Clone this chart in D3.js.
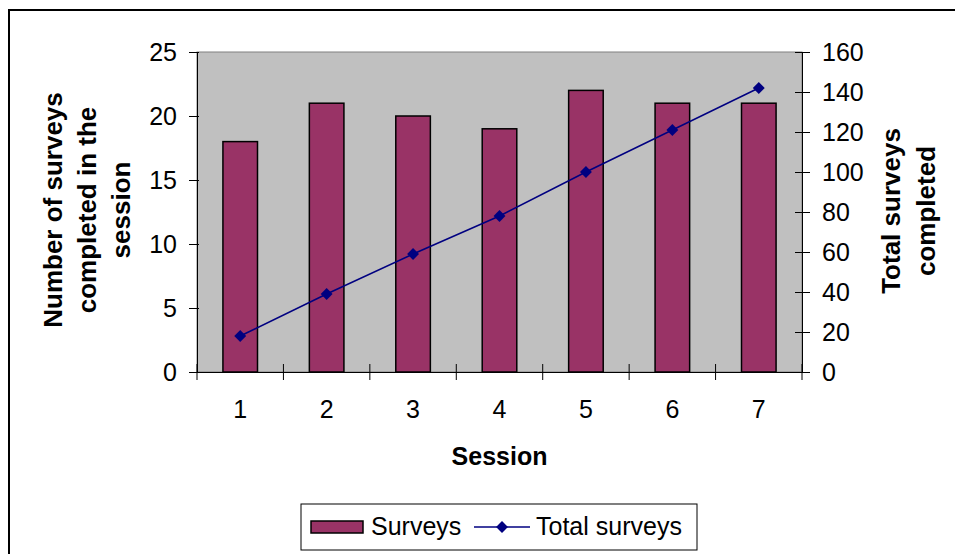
<!DOCTYPE html>
<html>
<head>
<meta charset="utf-8">
<script src="https://cdn.jsdelivr.net/npm/d3@7"></script>
<style>
  html, body { margin: 0; padding: 0; background: #fff; }
  svg { display: block; font-family: "Liberation Sans", Arial, sans-serif; }
</style>
</head>
<body>
<svg id="chart" width="955" height="554"></svg>
<script>
// Surveys completed per session, and the running total
const sessions = ["1", "2", "3", "4", "5", "6", "7"];
const surveys = [18, 21, 20, 19, 22, 21, 21];
const totalSurveys = [18, 39, 59, 78, 100, 121, 142];
const leftTicks = [0, 5, 10, 15, 20, 25];
const rightTicks = [0, 20, 40, 60, 80, 100, 120, 140, 160];

const svg = d3.select("#chart");
const plot = { left: 197, top: 52, right: 802, bottom: 372 };

// outer chart frame
svg.append("rect")
  .attr("x", 9).attr("y", 10).attr("width", 960).attr("height", 560)
  .attr("fill", "none").attr("stroke", "#000").attr("stroke-width", 2);

const x = d3.scaleBand().domain(sessions).range([plot.left, plot.right]).paddingInner(0).paddingOuter(0);
const yL = d3.scaleLinear().domain([0, 25]).range([plot.bottom, plot.top]);
const yR = d3.scaleLinear().domain([0, 160]).range([plot.bottom, plot.top]);

// plot area
svg.append("rect")
  .attr("x", plot.left).attr("y", plot.top)
  .attr("width", plot.right - plot.left).attr("height", plot.bottom - plot.top)
  .attr("fill", "#c0c0c0").attr("stroke", "#808080").attr("stroke-width", 1);

// bars
const barW = x.bandwidth() / 2.5;
svg.append("g").selectAll("rect").data(sessions).join("rect")
  .attr("x", (d) => x(d) + (x.bandwidth() - barW) / 2)
  .attr("y", (d, i) => yL(surveys[i]))
  .attr("width", barW)
  .attr("height", (d, i) => yL(0) - yL(surveys[i]))
  .attr("fill", "#993366").attr("stroke", "#000").attr("stroke-width", 1.5);

// axes
function styleAxis(g) {
  g.select(".domain").attr("stroke", "#000").attr("stroke-width", 1);
  g.selectAll(".tick line").attr("stroke", "#000");
  g.selectAll(".tick text").attr("fill", "#000").attr("font-size", 25);
}

const axL = svg.append("g").attr("transform", `translate(${plot.left},0)`)
  .call(d3.axisLeft(yL).tickValues(leftTicks).tickSize(0).tickPadding(20));
axL.selectAll(".tick").append("line").attr("x1", -8).attr("x2", 2);
styleAxis(axL);

const axR = svg.append("g").attr("transform", `translate(${plot.right},0)`)
  .call(d3.axisRight(yR).tickValues(rightTicks).tickSize(0).tickPadding(20));
axR.selectAll(".tick").append("line").attr("x1", -7).attr("x2", 8);
styleAxis(axR);

const axB = svg.append("g").attr("transform", `translate(0,${plot.bottom})`)
  .call(d3.axisBottom(x).tickSize(0).tickPadding(28));
styleAxis(axB);
// category separators crossing the axis
const sepPos = d3.range(sessions.length + 1).map((i) => plot.left + i * x.bandwidth());
axB.selectAll("line.sep").data(sepPos).join("line").attr("class", "sep")
  .attr("x1", (d) => d).attr("x2", (d) => d).attr("y1", -8).attr("y2", 8)
  .attr("stroke", "#000");

// running total line
const line = d3.line()
  .x((d, i) => x(sessions[i]) + x.bandwidth() / 2)
  .y((d) => yR(d));
svg.append("path").datum(totalSurveys).attr("d", line)
  .attr("fill", "none").attr("stroke", "#000080").attr("stroke-width", 1.5);
const diamond = d3.symbol().type(d3.symbolDiamond2).size(90);
svg.append("g").selectAll("path").data(totalSurveys).join("path")
  .attr("d", diamond)
  .attr("transform", (d, i) => `translate(${x(sessions[i]) + x.bandwidth() / 2},${yR(d)})`)
  .attr("fill", "#000080");

// axis titles
svg.append("text").attr("x", (plot.left + plot.right) / 2).attr("y", 465)
  .attr("text-anchor", "middle").attr("font-size", 25).attr("font-weight", "bold")
  .text("Session");

const leftTitle = ["Number of surveys", "completed in the", "session"];
svg.append("text").attr("transform", "translate(62,210) rotate(-90)")
  .attr("text-anchor", "middle").attr("font-size", 26).attr("font-weight", "bold")
  .selectAll("tspan").data(leftTitle).join("tspan")
  .attr("x", 0).attr("dy", (d, i) => i === 0 ? 0 : 34).text((d) => d);

const rightTitle = ["Total surveys", "completed"];
svg.append("text").attr("transform", "translate(900,211) rotate(-90)")
  .attr("text-anchor", "middle").attr("font-size", 26).attr("font-weight", "bold")
  .selectAll("tspan").data(rightTitle).join("tspan")
  .attr("x", 0).attr("dy", (d, i) => i === 0 ? 0 : 35).text((d) => d);

// legend
const lg = svg.append("g");
lg.append("rect").attr("x", 301).attr("y", 504).attr("width", 396).attr("height", 46)
  .attr("fill", "#fff").attr("stroke", "#000").attr("stroke-width", 1);
lg.append("rect").attr("x", 311).attr("y", 521).attr("width", 52).attr("height", 12)
  .attr("fill", "#993366").attr("stroke", "#000").attr("stroke-width", 1.5);
lg.append("text").attr("x", 371).attr("y", 535).attr("font-size", 25).text("Surveys");
lg.append("line").attr("x1", 474).attr("x2", 530).attr("y1", 527).attr("y2", 527)
  .attr("stroke", "#000080").attr("stroke-width", 1.5);
lg.append("path").attr("d", diamond).attr("transform", "translate(502,527)").attr("fill", "#000080");
lg.append("text").attr("x", 536).attr("y", 535).attr("font-size", 25).text("Total surveys");
</script>
</body>
</html>
